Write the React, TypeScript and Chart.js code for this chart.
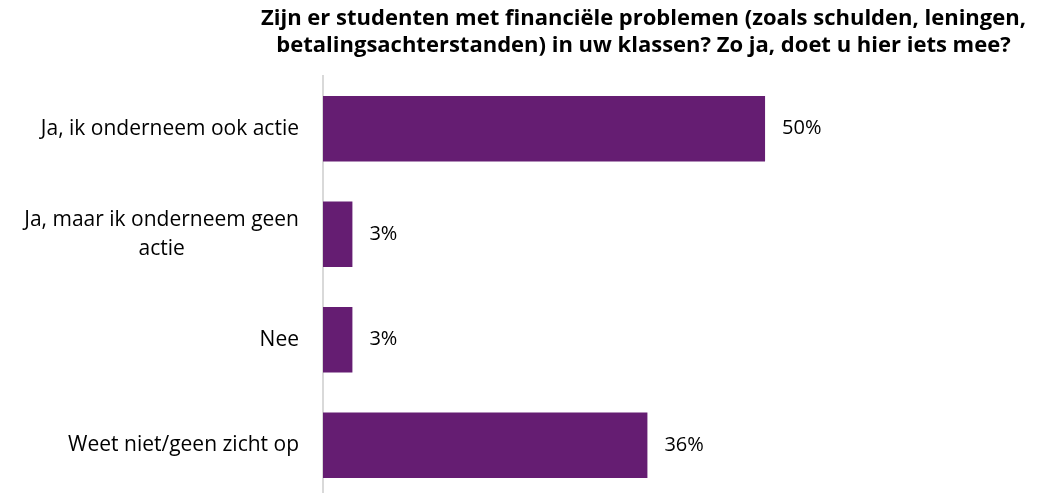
import React, { useEffect, useRef } from "react";
import { Chart, registerables } from "chart.js";

Chart.register(...registerables);

const TITLE_LINES = [
  "Zijn er studenten met financiële problemen (zoals schulden, leningen,",
  "betalingsachterstanden) in uw klassen? Zo ja, doet u hier iets mee?",
];
const CATEGORIES: string[][] = [
  ["Ja, ik onderneem ook actie"],
  ["Ja, maar ik onderneem geen", "actie"],
  ["Nee"],
  ["Weet niet/geen zicht op"],
];
const VALUES = [49.6, 3.3, 3.3, 36.4];
const AXIS_MAX = 80;
const BAR_COLOR = "#651d72";
const FONT = "'Open Sans'";

const yLabelsPlugin = {
  id: "yLabels",
  afterDraw(chart: any) {
    const scale = chart.scales.y;
    const ctx = chart.ctx;
    ctx.save();
    ctx.font = `21px ${FONT}`;
    ctx.fillStyle = "#000";
    ctx.textBaseline = "middle";
    ctx.textAlign = "center";
    const right = chart.chartArea.left - 24;
    const lh = 29;
    const labels = chart.data.labels as string[][];
    labels.forEach((lines, i) => {
      const widest = Math.max(...lines.map((l) => ctx.measureText(l).width));
      const cx = right - widest / 2;
      const y = scale.getPixelForTick(i);
      lines.forEach((l, j) => {
        ctx.fillText(l, cx, y + (j - (lines.length - 1) / 2) * lh);
      });
    });
    ctx.restore();
  },
};

const valueLabelsPlugin = {
  id: "valueLabels",
  afterDatasetsDraw(chart: any) {
    const ctx = chart.ctx;
    const meta = chart.getDatasetMeta(0);
    const data = chart.data.datasets[0].data as number[];
    ctx.save();
    ctx.font = `20px ${FONT}`;
    ctx.fillStyle = "#000";
    ctx.textBaseline = "middle";
    ctx.textAlign = "left";
    meta.data.forEach((el: any, i: number) => {
      ctx.fillText(`${Math.round(data[i])}%`, el.x + 17, el.y);
    });
    ctx.restore();
  },
};

export default function App() {
  const ref = useRef<HTMLCanvasElement | null>(null);

  useEffect(() => {
    document.body.style.margin = "0";
    document.body.style.overflow = "hidden";
    document.documentElement.style.overflow = "hidden";
    const canvas = ref.current;
    if (!canvas) return;
    const chart = new Chart(canvas, {
      type: "bar",
      data: {
        labels: CATEGORIES as any,
        datasets: [
          {
            data: VALUES,
            backgroundColor: BAR_COLOR,
            borderWidth: 0,
            barPercentage: 1,
            categoryPercentage: 0.622,
          },
        ],
      },
      options: {
        indexAxis: "y",
        responsive: false,
        animation: false,
        layout: { padding: { left: 251, right: 15, top: 0, bottom: 2 } },
        plugins: {
          legend: { display: false },
          tooltip: { enabled: false },
          title: {
            display: true,
            text: TITLE_LINES,
            color: "#000",
            font: { family: FONT, size: 22, weight: "bold", lineHeight: 26.7 / 22 },
            padding: { top: 5.4, bottom: 17.2 },
          },
        },
        scales: {
          x: {
            display: false,
            min: 0,
            max: AXIS_MAX,
          },
          y: {
            display: true,
            ticks: { display: false },
            grid: { display: false, drawTicks: false },
            border: { display: true, color: "#d9d9d9", width: 2 },
            afterFit(scale: any) {
              scale.width = 72;
            },
          },
        },
      },
      plugins: [yLabelsPlugin, valueLabelsPlugin],
    });
    return () => chart.destroy();
  }, []);

  return (
    <div style={{ width: 1051, height: 500, overflow: "hidden" }}>
      <canvas ref={ref} width={1051} height={500} style={{ display: "block" }} />
    </div>
  );
}
